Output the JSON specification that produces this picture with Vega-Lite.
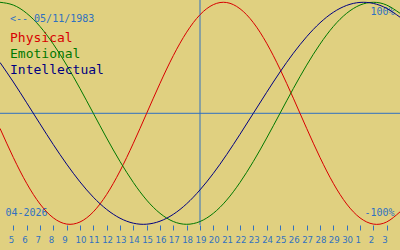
{
  "$schema": "https://vega.github.io/schema/vega-lite/v6.json",
  "width": 400,
  "height": 225,
  "autosize": {"type": "none"},
  "padding": {"left": 0, "top": 0, "right": 0, "bottom": 25},
  "background": "#e0d080",
  "config": {"view": {"stroke": null}, "font": "DejaVu Sans Mono"},
  "datasets": {
    "bio": [
      {"s":"Physical","d":0,"v":-13.6},{"s":"Physical","d":1,"v":-39.8},{"s":"Physical","d":2,"v":-63.1},{"s":"Physical","d":3,"v":-81.7},{"s":"Physical","d":4,"v":-94.2},{"s":"Physical","d":5,"v":-99.8},{"s":"Physical","d":6,"v":-97.9},{"s":"Physical","d":7,"v":-88.8},{"s":"Physical","d":8,"v":-73.1},{"s":"Physical","d":9,"v":-52.0},{"s":"Physical","d":10,"v":-27.0},{"s":"Physical","d":11,"v":0},{"s":"Physical","d":12,"v":27.0},{"s":"Physical","d":13,"v":52.0},{"s":"Physical","d":14,"v":73.1},{"s":"Physical","d":15,"v":88.8},{"s":"Physical","d":16,"v":97.9},{"s":"Physical","d":17,"v":99.8},{"s":"Physical","d":18,"v":94.2},{"s":"Physical","d":19,"v":81.7},{"s":"Physical","d":20,"v":63.1},{"s":"Physical","d":21,"v":39.8},{"s":"Physical","d":22,"v":13.6},{"s":"Physical","d":23,"v":-13.6},{"s":"Physical","d":24,"v":-39.8},{"s":"Physical","d":25,"v":-63.1},{"s":"Physical","d":26,"v":-81.7},{"s":"Physical","d":27,"v":-94.2},{"s":"Physical","d":28,"v":-99.8},{"s":"Physical","d":29,"v":-97.9},{"s":"Physical","d":30,"v":-88.8},
      {"s":"Emotional","d":0,"v":100},{"s":"Emotional","d":1,"v":97.5},{"s":"Emotional","d":2,"v":90.1},{"s":"Emotional","d":3,"v":78.2},{"s":"Emotional","d":4,"v":62.3},{"s":"Emotional","d":5,"v":43.4},{"s":"Emotional","d":6,"v":22.3},{"s":"Emotional","d":7,"v":0},{"s":"Emotional","d":8,"v":-22.3},{"s":"Emotional","d":9,"v":-43.4},{"s":"Emotional","d":10,"v":-62.3},{"s":"Emotional","d":11,"v":-78.2},{"s":"Emotional","d":12,"v":-90.1},{"s":"Emotional","d":13,"v":-97.5},{"s":"Emotional","d":14,"v":-100},{"s":"Emotional","d":15,"v":-97.5},{"s":"Emotional","d":16,"v":-90.1},{"s":"Emotional","d":17,"v":-78.2},{"s":"Emotional","d":18,"v":-62.3},{"s":"Emotional","d":19,"v":-43.4},{"s":"Emotional","d":20,"v":-22.3},{"s":"Emotional","d":21,"v":0},{"s":"Emotional","d":22,"v":22.3},{"s":"Emotional","d":23,"v":43.4},{"s":"Emotional","d":24,"v":62.3},{"s":"Emotional","d":25,"v":78.2},{"s":"Emotional","d":26,"v":90.1},{"s":"Emotional","d":27,"v":97.5},{"s":"Emotional","d":28,"v":100},{"s":"Emotional","d":29,"v":97.5},{"s":"Emotional","d":30,"v":90.1},
      {"s":"Intellectual","d":0,"v":45.8},{"s":"Intellectual","d":1,"v":28.2},{"s":"Intellectual","d":2,"v":9.5},{"s":"Intellectual","d":3,"v":-9.5},{"s":"Intellectual","d":4,"v":-28.2},{"s":"Intellectual","d":5,"v":-45.8},{"s":"Intellectual","d":6,"v":-61.8},{"s":"Intellectual","d":7,"v":-75.6},{"s":"Intellectual","d":8,"v":-86.6},{"s":"Intellectual","d":9,"v":-94.5},{"s":"Intellectual","d":10,"v":-99.0},{"s":"Intellectual","d":11,"v":-99.9},{"s":"Intellectual","d":12,"v":-97.2},{"s":"Intellectual","d":13,"v":-91.0},{"s":"Intellectual","d":14,"v":-81.5},{"s":"Intellectual","d":15,"v":-69.0},{"s":"Intellectual","d":16,"v":-54.1},{"s":"Intellectual","d":17,"v":-37.2},{"s":"Intellectual","d":18,"v":-18.9},{"s":"Intellectual","d":19,"v":0},{"s":"Intellectual","d":20,"v":18.9},{"s":"Intellectual","d":21,"v":37.2},{"s":"Intellectual","d":22,"v":54.1},{"s":"Intellectual","d":23,"v":69.0},{"s":"Intellectual","d":24,"v":81.5},{"s":"Intellectual","d":25,"v":91.0},{"s":"Intellectual","d":26,"v":97.2},{"s":"Intellectual","d":27,"v":99.9},{"s":"Intellectual","d":28,"v":99.0},{"s":"Intellectual","d":29,"v":94.5},{"s":"Intellectual","d":30,"v":86.6}
    ],
    "today": [{"d": 15}],
    "zero": [{"v": 0}]
  },
  "layer": [
    {
      "data": {"name": "today"},
      "mark": {"type": "rule", "color": "#3070c0", "strokeWidth": 1},
      "encoding": {"x": {"field": "d", "type": "quantitative"}}
    },
    {
      "data": {"name": "zero"},
      "mark": {"type": "rule", "color": "#3070c0", "strokeWidth": 1},
      "encoding": {"y": {"field": "v", "type": "quantitative"}}
    },
    {
      "data": {"name": "bio"},
      "mark": {"type": "line", "interpolate": "natural", "strokeWidth": 1},
      "encoding": {
        "x": {
          "field": "d", "type": "quantitative",
          "scale": {"domain": [0, 30], "nice": false, "zero": false},
          "axis": {
            "values": [1,2,3,4,5,6,7,8,9,10,11,12,13,14,15,16,17,18,19,20,21,22,23,24,25,26,27,28,29],
            "tickCount": 40,
            "labelExpr": "datum.value + 4 > 30 ? datum.value - 26 : datum.value + 4",
            "domain": false, "grid": false, "ticks": true, "tickSize": 5, "tickColor": "#3070c0", "tickWidth": 1,
            "labelColor": "#3070c0", "labelFont": "Liberation Sans Narrow, DejaVu Sans Condensed, sans-serif", "labelFontSize": 9.5,
            "labelAlign": "left", "labelOffset": -5, "labelBaseline": "alphabetic", "labelPadding": 12,
            "labelFlush": false, "labelOverlap": false, "labelBound": false,
            "title": "04-2026", "titleFont": "DejaVu Sans Mono", "titleFontSize": 10, "titleFontWeight": "normal",
            "titleColor": "#3070c0", "titleAnchor": "start", "titleAlign": "left", "titleBaseline": "alphabetic",
            "titleX": 5, "titleY": -9.7
          }
        },
        "y": {
          "field": "v", "type": "quantitative",
          "scale": {"domain": [-100.63, 102.07], "nice": false, "zero": false},
          "axis": {
            "orient": "right", "values": [100, -100], "labelExpr": "datum.value + '%'",
            "domain": false, "ticks": false, "tickSize": 0, "grid": false, "title": null,
            "labelAlign": "right", "labelPadding": -6, "labelBaseline": "alphabetic",
            "labelOffset": {"condition": {"test": "datum.value > 0", "value": 12.7}, "value": -8.6},
            "labelColor": "#3070c0", "labelFontSize": 10, "labelFont": "DejaVu Sans Mono", "labelFlush": false, "labelOverlap": false
          }
        },
        "color": {
          "field": "s", "type": "nominal",
          "scale": {"domain": ["Physical", "Emotional", "Intellectual"], "range": ["#d80000", "#007800", "#000080"]},
          "legend": {
            "orient": "none", "legendX": 10, "legendY": 14, "direction": "vertical",
            "title": "<-- 05/11/1983", "titleFont": "DejaVu Sans Mono", "titleFontSize": 10, "titleFontWeight": "normal",
            "titleColor": "#3070c0", "titlePadding": 7.5,
            "labelFont": "DejaVu Sans Mono", "labelFontSize": 13,
            "symbolOpacity": 0, "symbolSize": 0, "symbolStrokeWidth": 0, "labelOffset": -13, "rowPadding": 2, "padding": 0,
            "encode": {"labels": {"update": {"fill": {"scale": "color", "field": "value"}}}}
          }
        }
      }
    }
  ]
}
